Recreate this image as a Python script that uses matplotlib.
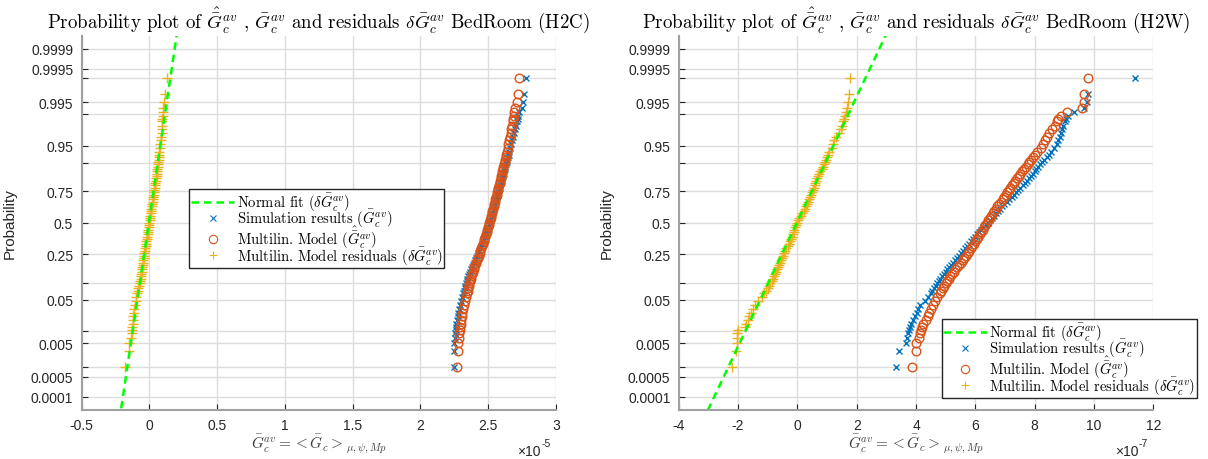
import numpy as np
import matplotlib
matplotlib.use("Agg")
import matplotlib.pyplot as plt
from matplotlib.lines import Line2D
from matplotlib.ticker import FixedLocator, FixedFormatter, FuncFormatter, NullLocator
from statistics import NormalDist

plt.rcParams["mathtext.fontset"] = "cm"

# rangs des points montrés (sur n_obs points triés), position (i-0.5)/n
n_obs = 500
ranks = [1, 2, 3, 4, 5, 6, 7, 8, 10, 12, 14, 17, 20, 24, 28, 33,
         37, 41, 45, 49, 53, 58, 63, 68, 74, 80, 86, 93, 99, 106, 114, 121, 129, 138, 146,
         155, 164, 173, 182, 192, 201, 211, 221, 231, 241, 250,
         260, 270, 280, 290, 300, 309, 319, 328, 337, 346, 355, 363, 372, 380, 387,
         395, 402, 408, 415, 421, 427, 433, 438, 443, 448, 452, 456, 460, 464,
         468, 473, 477, 481, 484, 487, 489, 491, 493, 494, 495, 496, 497, 498, 499, 500]

# H2C, valeurs en 1e-5
h2c_sim = [2.245, 2.245, 2.250, 2.255, 2.258, 2.260, 2.262, 2.265, 2.270, 2.275, 2.280, 2.287, 2.293, 2.300, 2.307, 2.315,
           2.320, 2.325, 2.330, 2.335, 2.340, 2.345, 2.352, 2.360, 2.367, 2.375, 2.383, 2.390, 2.398, 2.405,
           2.413, 2.420, 2.428, 2.435, 2.443, 2.450, 2.457, 2.463, 2.469, 2.475, 2.481, 2.487, 2.493, 2.498, 2.504, 2.510,
           2.515, 2.520, 2.525, 2.530, 2.535, 2.540, 2.545, 2.550, 2.555, 2.560, 2.565, 2.570, 2.575, 2.580, 2.585,
           2.590, 2.595, 2.600, 2.605, 2.610, 2.614, 2.618, 2.623, 2.627, 2.632, 2.636, 2.641, 2.645, 2.650,
           2.655, 2.660, 2.667, 2.675, 2.682, 2.690, 2.697, 2.705, 2.712, 2.718, 2.722, 2.728, 2.750, 2.757, 2.763, 2.775]
h2c_mod = [2.268, 2.278, 2.280, 2.283, 2.286, 2.290, 2.293, 2.296, 2.300, 2.305, 2.310, 2.317, 2.322, 2.330, 2.337, 2.343,
           2.348, 2.352, 2.356, 2.360, 2.365, 2.370, 2.375, 2.380, 2.386, 2.392, 2.398, 2.405, 2.411, 2.418,
           2.424, 2.430, 2.436, 2.442, 2.449, 2.455, 2.460, 2.466, 2.471, 2.477, 2.482, 2.488, 2.493, 2.498, 2.503, 2.508,
           2.512, 2.517, 2.521, 2.526, 2.530, 2.535, 2.539, 2.544, 2.548, 2.553, 2.557, 2.562, 2.566, 2.571, 2.575,
           2.580, 2.584, 2.588, 2.592, 2.596, 2.600, 2.604, 2.608, 2.612, 2.616, 2.620, 2.624, 2.628, 2.632,
           2.636, 2.642, 2.648, 2.654, 2.660, 2.666, 2.670, 2.675, 2.680, 2.684, 2.688, 2.692, 2.700, 2.713, 2.720, 2.728]
h2c_res = [-0.182, -0.153, -0.148, -0.138, -0.128, -0.127, -0.125, -0.122, -0.120, -0.118, -0.115, -0.110, -0.105, -0.100, -0.095, -0.090,
           -0.086, -0.082, -0.077, -0.072, -0.068, -0.065, -0.062, -0.060, -0.057, -0.055, -0.052, -0.050, -0.047, -0.045,
           -0.042, -0.040, -0.037, -0.035, -0.031, -0.028, -0.025, -0.022, -0.019, -0.016, -0.013, -0.010, -0.007, -0.005, -0.002, 0.000,
           0.003, 0.005, 0.008, 0.010, 0.013, 0.016, 0.018, 0.021, 0.024, 0.026, 0.029, 0.032, 0.034, 0.037, 0.040,
           0.043, 0.045, 0.048, 0.050, 0.053, 0.055, 0.058, 0.060, 0.062, 0.064, 0.066, 0.068, 0.070, 0.072,
           0.074, 0.078, 0.082, 0.085, 0.088, 0.090, 0.092, 0.094, 0.096, 0.097, 0.098, 0.098, 0.103, 0.108, 0.117, 0.128]
h2c_fit_mu, h2c_fit_sd = -0.004, 0.0513

# H2W, valeurs en 1e-7
h2w_sim = [3.33, 3.42, 3.67, 3.70, 3.72, 3.75, 3.78, 3.82, 3.90, 3.98, 4.03, 4.08, 4.15, 4.30, 4.40, 4.50,
           4.55, 4.60, 4.66, 4.72, 4.77, 4.82, 4.88, 4.95, 5.00, 5.05, 5.12, 5.18, 5.25, 5.32,
           5.38, 5.45, 5.53, 5.60, 5.66, 5.72, 5.78, 5.85, 5.91, 5.98, 6.05, 6.12, 6.20, 6.27, 6.35, 6.42,
           6.49, 6.56, 6.62, 6.68, 6.75, 6.82, 6.90, 6.98, 7.07, 7.15, 7.22, 7.30, 7.37, 7.45, 7.52,
           7.60, 7.68, 7.75, 7.82, 7.88, 7.94, 8.00, 8.06, 8.12, 8.18, 8.25, 8.32, 8.40, 8.47,
           8.55, 8.65, 8.75, 8.80, 8.85, 8.90, 8.93, 8.97, 9.02, 9.05, 9.11, 9.34, 9.68, 9.76, 9.80, 11.39]
h2w_mod = [3.87, 4.00, 4.00, 4.10, 4.13, 4.17, 4.20, 4.25, 4.33, 4.40, 4.45, 4.50, 4.57, 4.65, 4.72, 4.80,
           4.85, 4.90, 4.95, 5.00, 5.05, 5.10, 5.16, 5.22, 5.27, 5.32, 5.39, 5.45, 5.51, 5.57,
           5.63, 5.68, 5.74, 5.80, 5.85, 5.90, 5.95, 6.00, 6.05, 6.10, 6.15, 6.20, 6.25, 6.30, 6.34, 6.38,
           6.43, 6.48, 6.53, 6.58, 6.63, 6.68, 6.74, 6.80, 6.86, 6.92, 6.97, 7.02, 7.07, 7.12, 7.18,
           7.25, 7.30, 7.35, 7.40, 7.46, 7.52, 7.58, 7.64, 7.70, 7.76, 7.82, 7.88, 7.95, 8.02,
           8.08, 8.20, 8.27, 8.35, 8.42, 8.50, 8.60, 8.68, 8.75, 8.80, 8.89, 9.08, 9.60, 9.65, 9.67, 9.80]
h2w_res = [-2.22, -2.08, -2.05, -2.04, -2.03, -2.00, -1.78, -1.72, -1.66, -1.62, -1.57, -1.50, -1.43, -1.33, -1.20, -1.12,
           -1.06, -1.00, -0.96, -0.93, -0.87, -0.82, -0.78, -0.75, -0.72, -0.70, -0.66, -0.62, -0.58, -0.55,
           -0.51, -0.48, -0.45, -0.42, -0.37, -0.33, -0.29, -0.25, -0.22, -0.19, -0.16, -0.13, -0.10, -0.07, -0.04, -0.01,
           0.03, 0.07, 0.12, 0.16, 0.21, 0.25, 0.29, 0.32, 0.36, 0.39, 0.42, 0.45, 0.49, 0.52, 0.55,
           0.58, 0.61, 0.64, 0.66, 0.69, 0.73, 0.77, 0.82, 0.86, 0.90, 0.93, 0.97, 1.00, 1.04,
           1.08, 1.15, 1.20, 1.25, 1.30, 1.40, 1.48, 1.50, 1.55, 1.57, 1.60, 1.63, 1.66, 1.69, 1.73, 1.76]
h2w_fit_mu, h2w_fit_sd = -0.02, 0.748

prob_ticks = [0.0001, 0.0005, 0.001, 0.005, 0.01, 0.05, 0.1, 0.25, 0.5,
              0.75, 0.9, 0.95, 0.99, 0.995, 0.999, 0.9995, 0.9999]
prob_labels = ["0.0001", "0.0005", "", "0.005", "", "0.05", "", "0.25", "0.5",
               "0.75", "", "0.95", "", "0.995", "", "0.9995", "0.9999"]

blue, orange, yellow = "#0072BD", "#D95319", "#EDB120"
sans = "Liberation Sans"
serif = "cmr10"

# échelle de probabilité normale
nd = NormalDist()
_ppf = np.vectorize(nd.inv_cdf, otypes=[float])
_cdf = np.vectorize(nd.cdf, otypes=[float])

def prob_fwd(p):
    p = np.clip(np.asarray(p, dtype=float), 1e-15, 1 - 1e-15)
    return _ppf(p)

def prob_inv(z):
    return _cdf(np.asarray(z, dtype=float))

pp = (np.array(ranks) - 0.5) / n_obs

fig = plt.figure(figsize=(12.08, 4.6), dpi=100)

panels = [
    dict(left=0.0675, sim=h2c_sim, mod=h2c_mod, res=h2c_res, mu=h2c_fit_mu, sd=h2c_fit_sd,
         xlim=(-0.5, 3), xticks=[-0.5, 0, 0.5, 1, 1.5, 2, 2.5, 3], expo="-5", room="H2C",
         leg=(0.227, 0.590)),
    dict(left=0.5619, sim=h2w_sim, mod=h2w_mod, res=h2w_res, mu=h2w_fit_mu, sd=h2w_fit_sd,
         xlim=(-4, 12), xticks=[-4, -2, 0, 2, 4, 6, 8, 10, 12], expo="-7", room="H2W",
         leg=(0.554, 0.2425)),
]

for pan in panels:
    ax = fig.add_axes([pan["left"], 0.1072, 0.3928, 0.813])
    ax.set_yscale("function", functions=(prob_fwd, prob_inv))
    ax.set_ylim(prob_inv(-4.0), prob_inv(4.0))
    ax.set_xlim(*pan["xlim"])

    ax.plot(pan["sim"], pp, ls="none", marker="x", color=blue, ms=4.8, mew=1.0)
    ax.plot(pan["mod"], pp, ls="none", marker="o", mfc="none", mec=orange, ms=6.2, mew=1.0)
    ax.plot(pan["res"], pp, ls="none", marker="+", color=yellow, ms=6.5, mew=1.0)
    zz = np.array([-4.5, 4.5])
    ax.plot(pan["mu"] + pan["sd"] * zz, prob_inv(zz), color="#00ff00", lw=1.8, ls=(0, (3, 2)))

    # axes et grille
    ax.yaxis.set_major_locator(FixedLocator(prob_ticks))
    ax.yaxis.set_major_formatter(FixedFormatter(prob_labels))
    ax.yaxis.set_minor_locator(NullLocator())
    ax.set_xticks(pan["xticks"])
    ax.xaxis.set_major_formatter(FuncFormatter(lambda v, pos: "%g" % v))
    ax.grid(True, color="#dcdcdc", lw=1.0)
    ax.set_axisbelow(True)
    for s in ["top", "right"]:
        ax.spines[s].set_visible(False)
    for s in ["left", "bottom"]:
        ax.spines[s].set_color("#a0a0a0")
        ax.spines[s].set_linewidth(1.5)
    ax.tick_params(direction="in", length=4, width=0.8, color="#262626",
                   labelcolor="#262626", labelsize=10, pad=6)
    for lab in ax.get_xticklabels() + ax.get_yticklabels():
        lab.set_fontfamily(sans)

    ax.set_ylabel("Probability", fontsize=11, family=sans, color="#262626")
    ax.yaxis.set_label_coords(-0.137, 0.5)
    ax.set_xlabel(r"$\bar{G}_c^{av} = <\bar{G}_c>_{\mu,\psi,Mp}$", fontsize=11, color="#404040")
    ax.xaxis.set_label_coords(0.5, -0.089)
    ax.xaxis.label.set_va("center")

    ax.text(0.968, -0.110, "\u00d710", transform=ax.transAxes, ha="right", va="center",
            fontsize=10, family=sans, color="#262626")
    ax.text(0.969, -0.089, pan["expo"], transform=ax.transAxes, ha="left", va="center",
            fontsize=7.5, family=sans, color="#262626")

    ax.set_title(r"Probability plot of $\hat{\bar{G}}_c^{av}$ , $\bar{G}_c^{av}$ and residuals "
                 r"$\delta\bar{G}_c^{av}$ BedRoom (" + pan["room"] + ")",
                 fontsize=13.6, family=serif, color="#000000", pad=6)

    handles = [
        Line2D([], [], color="#00ff00", lw=1.8, ls=(0, (3, 2))),
        Line2D([], [], ls="none", marker="x", color=blue, ms=4.5, mew=0.8),
        Line2D([], [], ls="none", marker="o", mfc="none", mec=orange, ms=6, mew=0.8),
        Line2D([], [], ls="none", marker="+", color=yellow, ms=6, mew=0.8),
    ]
    labels = [r"Normal fit ($\delta\bar{G}_c^{av}$)",
              r"Simulation results ($\bar{G}_c^{av}$)",
              r"Multilin. Model ($\hat{\bar{G}}_c^{av}$)",
              r"Multilin. Model residuals ($\delta\bar{G}_c^{av}$)"]
    leg = ax.legend(handles, labels, loc="upper left", bbox_to_anchor=pan["leg"],
                    prop={"family": serif, "size": 10.5}, frameon=True, fancybox=False,
                    framealpha=1, edgecolor="#262626", handlelength=3.0, handletextpad=0.15,
                    borderpad=0.1, labelspacing=-0.4, borderaxespad=0)
    leg.get_frame().set_linewidth(1.0)

fig.savefig("out.png", dpi=100)
